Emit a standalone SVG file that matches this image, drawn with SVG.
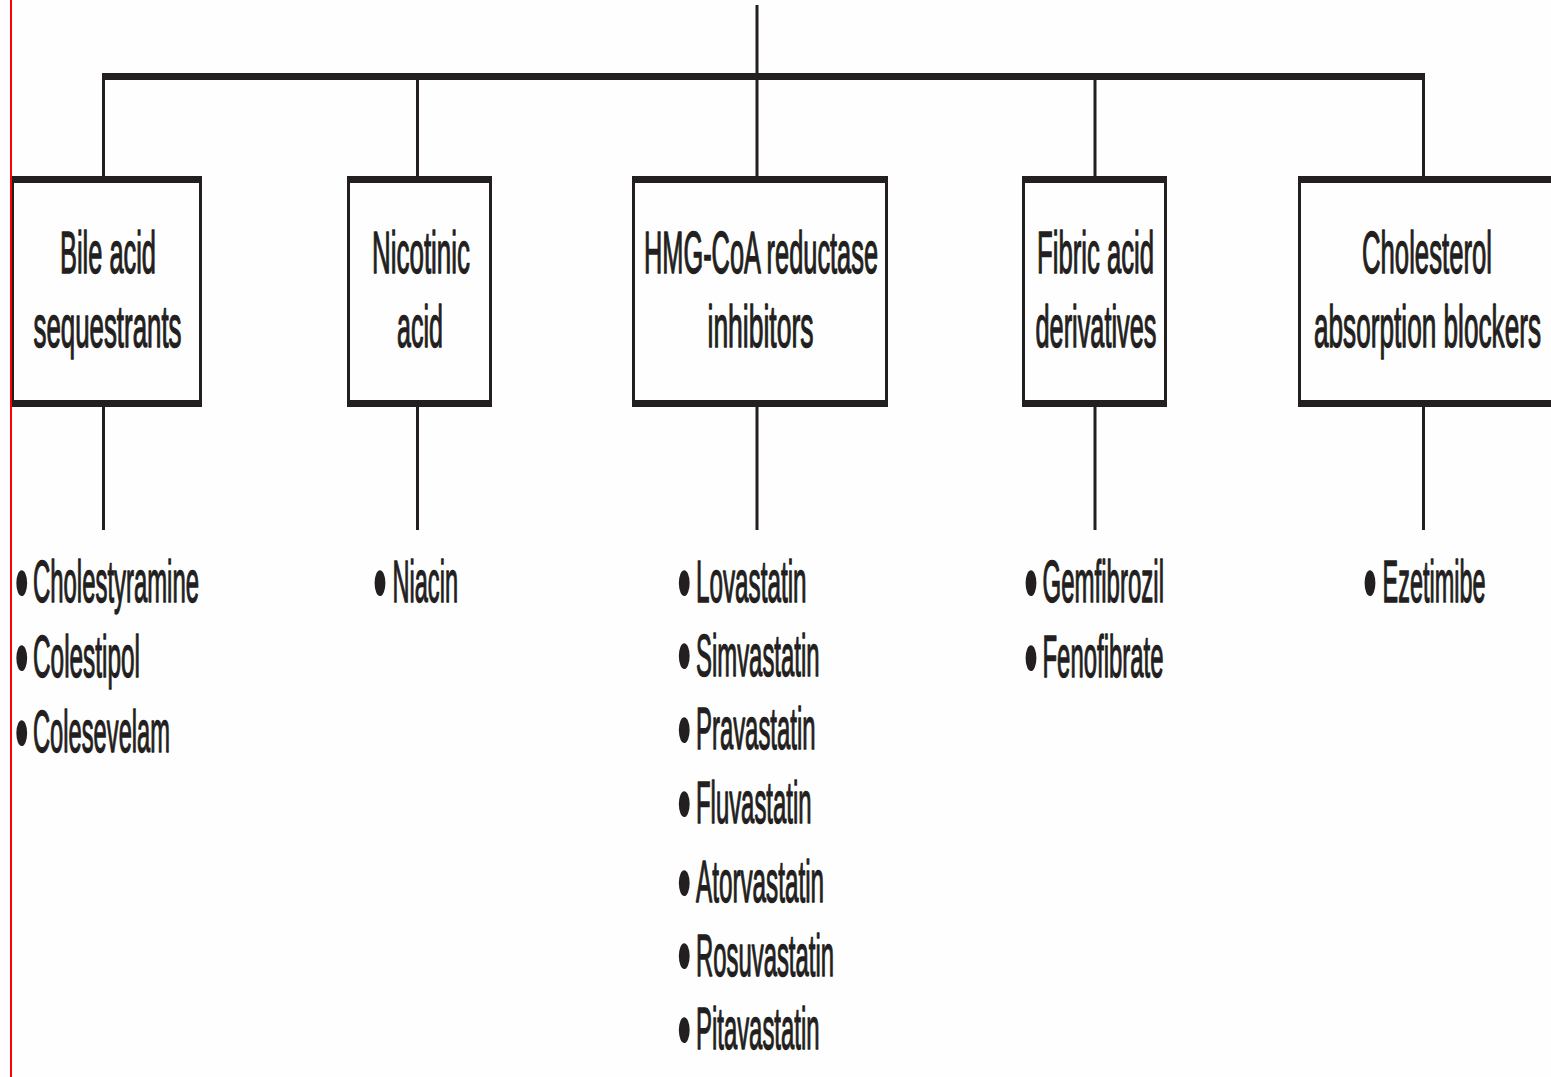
<svg xmlns="http://www.w3.org/2000/svg" width="1551" height="1077" viewBox="0 0 1551 1077">
<style>
.bg{fill:#fefefe}
.box{fill:#fefefe;stroke:#231f20;stroke-width:3}
.bar{fill:#231f20}
.ln{stroke:#231f20;stroke-width:3;fill:none}
.hl{stroke:#231f20;stroke-width:7;fill:none}
text{font-family:"Liberation Sans",Arial,sans-serif;font-size:59px;fill:#231f20;stroke:#231f20;stroke-width:1.4;stroke-linejoin:round}
.c{text-anchor:middle}
.b{font-size:95px;stroke-width:0}
</style>
<rect class="bg" x="0" y="0" width="1551" height="1077"/>
<g id="connectors">
<line class="ln" x1="757" y1="5" x2="757" y2="76"/>
<line class="hl" x1="102" y1="76.5" x2="1425" y2="76.5"/>
<line class="ln" x1="103.5" y1="76" x2="103.5" y2="177"/>
<line class="ln" x1="417.5" y1="76" x2="417.5" y2="177"/>
<line class="ln" x1="757" y1="76" x2="757" y2="177"/>
<line class="ln" x1="1095" y1="76" x2="1095" y2="177"/>
<line class="ln" x1="1423.5" y1="76" x2="1423.5" y2="177"/>
<line class="ln" x1="103.5" y1="406" x2="103.5" y2="530"/>
<line class="ln" x1="417.5" y1="406" x2="417.5" y2="530"/>
<line class="ln" x1="757" y1="406" x2="757" y2="530"/>
<line class="ln" x1="1095" y1="406" x2="1095" y2="530"/>
<line class="ln" x1="1423.5" y1="406" x2="1423.5" y2="530"/>
</g>
<g id="node-bile">
<rect class="box" x="12.5" y="179" width="188" height="225"/>
<rect class="bar" x="11" y="176" width="191" height="7"/>
<rect class="bar" x="11" y="400" width="191" height="7"/>
<text class="c" x="108" y="273" textLength="96" lengthAdjust="spacingAndGlyphs">Bile acid</text>
<text class="c" x="107.5" y="347" textLength="148" lengthAdjust="spacingAndGlyphs">sequestrants</text>
<text><tspan class="b" x="14.7" y="614.8" textLength="14" lengthAdjust="spacingAndGlyphs">•</tspan><tspan x="33" y="602" textLength="166" lengthAdjust="spacingAndGlyphs">Cholestyramine</tspan></text>
<text><tspan class="b" x="14.7" y="689.8" textLength="14" lengthAdjust="spacingAndGlyphs">•</tspan><tspan x="33" y="677" textLength="107" lengthAdjust="spacingAndGlyphs">Colestipol</tspan></text>
<text><tspan class="b" x="14.7" y="764.8" textLength="14" lengthAdjust="spacingAndGlyphs">•</tspan><tspan x="33" y="752" textLength="137" lengthAdjust="spacingAndGlyphs">Colesevelam</tspan></text>
</g>
<g id="node-nicotinic">
<rect class="box" x="348.5" y="179" width="142" height="225"/>
<rect class="bar" x="347" y="176" width="145" height="7"/>
<rect class="bar" x="347" y="400" width="145" height="7"/>
<text class="c" x="421" y="273" textLength="98" lengthAdjust="spacingAndGlyphs">Nicotinic</text>
<text class="c" x="420" y="347" textLength="46" lengthAdjust="spacingAndGlyphs">acid</text>
<text><tspan class="b" x="373" y="614.8" textLength="14" lengthAdjust="spacingAndGlyphs">•</tspan><tspan x="392.5" y="602" textLength="65.5" lengthAdjust="spacingAndGlyphs">Niacin</tspan></text>
</g>
<g id="node-hmg">
<rect class="box" x="633.5" y="179" width="253" height="225"/>
<rect class="bar" x="632" y="176" width="256" height="7"/>
<rect class="bar" x="632" y="400" width="256" height="7"/>
<text class="c" x="761" y="273" textLength="234" lengthAdjust="spacingAndGlyphs">HMG-CoA reductase</text>
<text class="c" x="760.5" y="347" textLength="106" lengthAdjust="spacingAndGlyphs">inhibitors</text>
<text><tspan class="b" x="677.3" y="614.8" textLength="14" lengthAdjust="spacingAndGlyphs">•</tspan><tspan x="696" y="602" textLength="110.5" lengthAdjust="spacingAndGlyphs">Lovastatin</tspan></text>
<text><tspan class="b" x="677.3" y="688.3" textLength="14" lengthAdjust="spacingAndGlyphs">•</tspan><tspan x="696" y="675.5" textLength="123.5" lengthAdjust="spacingAndGlyphs">Simvastatin</tspan></text>
<text><tspan class="b" x="677.3" y="761.8" textLength="14" lengthAdjust="spacingAndGlyphs">•</tspan><tspan x="696" y="749" textLength="119.5" lengthAdjust="spacingAndGlyphs">Pravastatin</tspan></text>
<text><tspan class="b" x="677.3" y="835.8" textLength="14" lengthAdjust="spacingAndGlyphs">•</tspan><tspan x="696" y="823" textLength="115.5" lengthAdjust="spacingAndGlyphs">Fluvastatin</tspan></text>
<text><tspan class="b" x="677.3" y="914.8" textLength="14" lengthAdjust="spacingAndGlyphs">•</tspan><tspan x="696" y="902" textLength="128" lengthAdjust="spacingAndGlyphs">Atorvastatin</tspan></text>
<text><tspan class="b" x="677.3" y="988.3" textLength="14" lengthAdjust="spacingAndGlyphs">•</tspan><tspan x="696" y="975.5" textLength="138" lengthAdjust="spacingAndGlyphs">Rosuvastatin</tspan></text>
<text><tspan class="b" x="677.3" y="1061.8" textLength="14" lengthAdjust="spacingAndGlyphs">•</tspan><tspan x="696" y="1049" textLength="123.5" lengthAdjust="spacingAndGlyphs">Pitavastatin</tspan></text>
</g>
<g id="node-fibric">
<rect class="box" x="1023.5" y="179" width="142" height="225"/>
<rect class="bar" x="1022" y="176" width="145" height="7"/>
<rect class="bar" x="1022" y="400" width="145" height="7"/>
<text class="c" x="1095.5" y="273" textLength="117" lengthAdjust="spacingAndGlyphs">Fibric acid</text>
<text class="c" x="1096" y="347" textLength="121" lengthAdjust="spacingAndGlyphs">derivatives</text>
<text><tspan class="b" x="1024" y="614.8" textLength="14" lengthAdjust="spacingAndGlyphs">•</tspan><tspan x="1042.5" y="602" textLength="121.5" lengthAdjust="spacingAndGlyphs">Gemfibrozil</tspan></text>
<text><tspan class="b" x="1024" y="689.8" textLength="14" lengthAdjust="spacingAndGlyphs">•</tspan><tspan x="1042.5" y="677" textLength="121" lengthAdjust="spacingAndGlyphs">Fenofibrate</tspan></text>
</g>
<g id="node-cholesterol">
<rect class="box" x="1299.5" y="179" width="260" height="225"/>
<rect class="bar" x="1298" y="176" width="260" height="7"/>
<rect class="bar" x="1298" y="400" width="260" height="7"/>
<text class="c" x="1427" y="273" textLength="130" lengthAdjust="spacingAndGlyphs">Cholesterol</text>
<text class="c" x="1427.5" y="347" textLength="227" lengthAdjust="spacingAndGlyphs">absorption blockers</text>
<text><tspan class="b" x="1363" y="614.8" textLength="14" lengthAdjust="spacingAndGlyphs">•</tspan><tspan x="1382.5" y="602" textLength="103" lengthAdjust="spacingAndGlyphs">Ezetimibe</tspan></text>
</g>
<rect x="10" y="0" width="2" height="1077" fill="#ff0000"/>
</svg>
